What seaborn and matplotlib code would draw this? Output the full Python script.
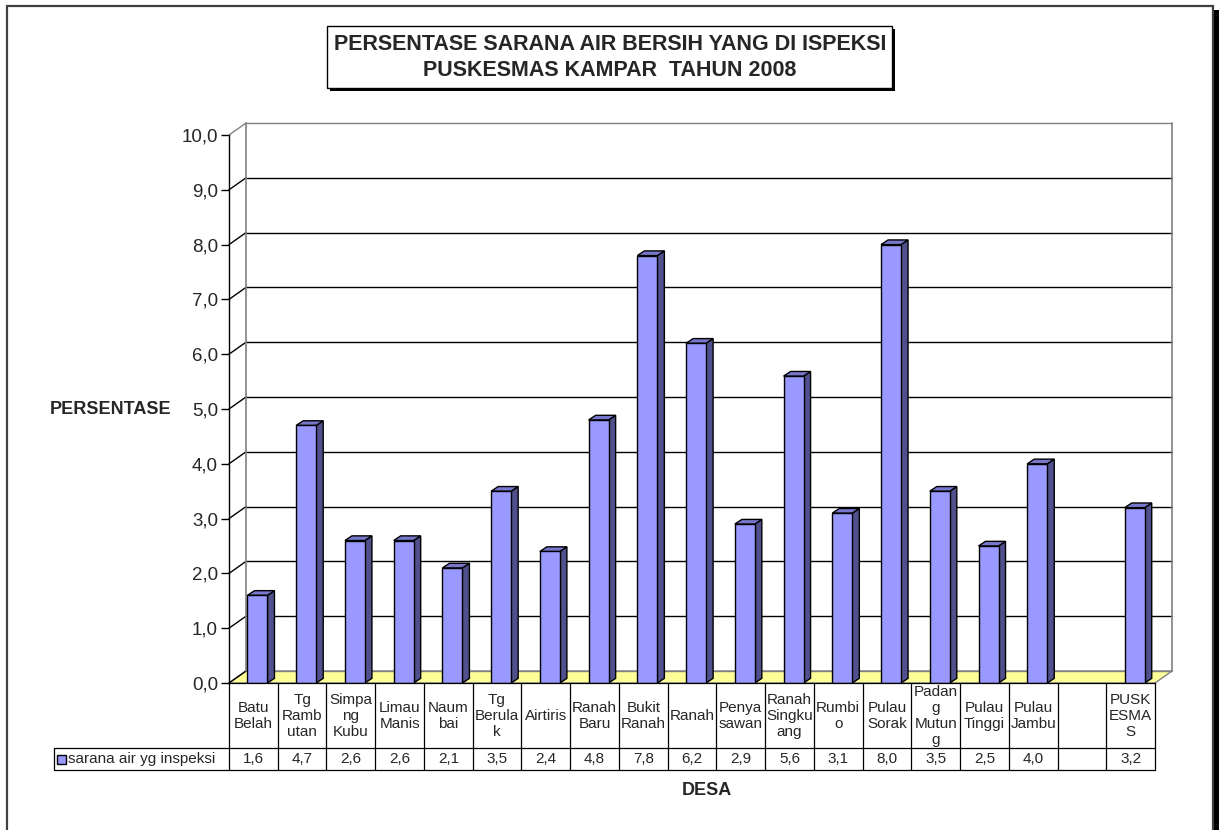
import matplotlib
matplotlib.use("Agg")
import matplotlib.pyplot as plt
import matplotlib.transforms as mtransforms
from matplotlib.patches import Rectangle, Polygon
from matplotlib.lines import Line2D
import numpy as np
import pandas as pd
import seaborn as sns

# data
desa = ["Batu Belah", "Tg Rambutan", "Simpang Kubu", "Limau Manis", "Naumbai",
        "Tg Berulak", "Airtiris", "Ranah Baru", "Bukit Ranah", "Ranah",
        "Penyasawan", "Ranah Singkuang", "Rumbio", "Pulau Sorak", "Padang Mutung",
        "Pulau Tinggi", "Pulau Jambu", "", "PUSKESMAS"]
label_tabel = ["Batu\nBelah", "Tg\nRamb\nutan", "Simpa\nng\nKubu", "Limau\nManis", "Naum\nbai",
               "Tg\nBerula\nk", "Airtiris", "Ranah\nBaru", "Bukit\nRanah", "Ranah",
               "Penya\nsawan", "Ranah\nSingku\nang", "Rumbi\no", "Pulau\nSorak", "Padan\ng\nMutun\ng",
               "Pulau\nTinggi", "Pulau\nJambu", "", "PUSK\nESMA\nS"]
nilai = [1.6, 4.7, 2.6, 2.6, 2.1, 3.5, 2.4, 4.8, 7.8, 6.2,
         2.9, 5.6, 3.1, 8.0, 3.5, 2.5, 4.0, np.nan, 3.2]
nama_seri = "sarana air yg inspeksi"
y_ticks = [0, 1, 2, 3, 4, 5, 6, 7, 8, 9, 10]

sns.set_style("white")
plt.rcParams['font.family'] = ['Liberation Sans', 'DejaVu Sans']

W, H = 1219, 830
def fx(p):
    return p / W
def fy(p):
    return 1 - p / H

fig = plt.figure(figsize=(W / 100, H / 100), dpi=100)
fig.patch.set_facecolor("white")

# outer frame
fig.add_artist(Rectangle((fx(7), fy(845)), fx(1213) - fx(7), fy(6) - fy(845),
                         transform=fig.transFigure, fill=False, edgecolor="#404040", lw=1.6))
fig.add_artist(Rectangle((fx(1214), 0), fx(1219) - fx(1214), fy(10),
                         transform=fig.transFigure, facecolor="black", edgecolor="none"))

ax = fig.add_axes([fx(229), fy(683), fx(1155) - fx(229), fy(135) - fy(683)])
ax.set_facecolor("none")

df = pd.DataFrame({"desa": desa, "nilai": nilai})
sns.barplot(data=df, x="desa", y="nilai", order=desa, color="#9999FF", saturation=1,
            edgecolor="black", linewidth=1, width=0.41, ax=ax, zorder=5)

n = len(desa)
ax.set_xlim(-0.5, n - 0.5)
ax.set_ylim(0, 10)

# wall depth in data units
wdx, wdy = 0.349, 0.219
x0, x1 = -0.5, n - 0.5

# floor
ax.add_patch(Polygon([(x0, 0), (x1, 0), (x1 + wdx, wdy), (x0 + wdx, wdy)], closed=True,
                     facecolor="#FFFF99", edgecolor="#808080", lw=1, clip_on=False, zorder=1))
# back wall + grid
for yv in y_ticks:
    col = "#808080" if yv in (0, 10) else "black"
    ax.add_line(Line2D([x0 + wdx, x1 + wdx], [yv + wdy, yv + wdy], color=col, lw=1,
                       clip_on=False, zorder=2))
    ax.add_line(Line2D([x0, x0 + wdx], [yv, yv + wdy], color=col if yv == 10 else "black",
                       lw=1, clip_on=False, zorder=2))
ax.add_line(Line2D([x0 + wdx, x0 + wdx], [wdy, 10 + wdy], color="#808080", lw=1.2, clip_on=False, zorder=2))
ax.add_line(Line2D([x1 + wdx, x1 + wdx], [wdy, 10 + wdy], color="#808080", lw=1.2, clip_on=False, zorder=2))

# 3d bars
bdx, bdy, shift = 0.144, 0.085, 0.084
for p in ax.patches:
    if not isinstance(p, Rectangle):
        continue
    h = p.get_height()
    if not np.isfinite(h) or h == 0:
        continue
    p.set_x(p.get_x() + shift)
    a = p.get_x()
    b = a + p.get_width()
    ax.add_patch(Polygon([(b, 0), (b + bdx, bdy), (b + bdx, h + bdy), (b, h)], closed=True,
                         facecolor="#50508C", edgecolor="black", lw=1, zorder=4, clip_on=False))
    ax.add_patch(Polygon([(a, h), (b, h), (b + bdx, h + bdy), (a + bdx, h + bdy)], closed=True,
                         facecolor="#7777CC", edgecolor="black", lw=1, zorder=4, clip_on=False))

for s in ["top", "right", "bottom"]:
    ax.spines[s].set_visible(False)
ax.spines["left"].set_color("black")
ax.spines["left"].set_linewidth(1)
ax.set_yticks(y_ticks)
ax.set_yticklabels([f"{v:.1f}".replace(".", ",") for v in y_ticks], fontsize=13.5)
ax.tick_params(axis="y", direction="out", length=6, width=1, color="black", pad=2, left=True)
ax.set_xticks([])
ax.set_xlabel("")
ax.set_ylabel("")

# data table
tr = mtransforms.blended_transform_factory(ax.transData, fig.transFigure)
lc = "black"
for yy in [683, 748, 770]:
    fig.add_artist(Line2D([x0, x1], [fy(yy), fy(yy)], transform=tr, color=lc, lw=0.9))
fig.add_artist(Line2D([fx(54), fx(229)], [fy(748), fy(748)], transform=fig.transFigure, color=lc, lw=0.9))
fig.add_artist(Line2D([fx(54), fx(229)], [fy(770), fy(770)], transform=fig.transFigure, color=lc, lw=0.9))
fig.add_artist(Line2D([fx(54), fx(54)], [fy(748), fy(770)], transform=fig.transFigure, color=lc, lw=0.9))
for k in range(n + 1):
    fig.add_artist(Line2D([x0 + k, x0 + k], [fy(683), fy(770)], transform=tr, color=lc, lw=0.9))

for i, (lab, v) in enumerate(zip(label_tabel, nilai)):
    t = fig.text(i, fy(716), lab, transform=tr, ha="center", va="center", fontsize=11,
                 linespacing=1.17, multialignment="center")
    clip = Rectangle((i - 0.5, fy(748)), 1, fy(683) - fy(748), transform=tr)
    t.set_clip_path(clip)
    if np.isfinite(v):
        fig.text(i, fy(759), f"{v:.1f}".replace(".", ","), transform=tr, ha="center",
                 va="center", fontsize=11)

# legend cell
fig.add_artist(Rectangle((fx(57), fy(764)), fx(66) - fx(57), fy(755) - fy(764),
                         transform=fig.transFigure, facecolor="#9999FF", edgecolor="black", lw=1))
fig.text(fx(68), fy(759), nama_seri, ha="left", va="center", fontsize=11)

# axis titles
fig.text(fx(111), fy(410), "PERSENTASE", ha="center", va="center", fontsize=13, fontweight="bold")
fig.text(fx(707), fy(790), "DESA", ha="center", va="center", fontsize=13, fontweight="bold")

# title box
fig.add_artist(Rectangle((fx(330), fy(91)), fx(895) - fx(330), fy(29) - fy(91),
                         transform=fig.transFigure, facecolor="black", edgecolor="none"))
fig.add_artist(Rectangle((fx(327), fy(88)), fx(892) - fx(327), fy(26) - fy(88),
                         transform=fig.transFigure, facecolor="white", edgecolor="black", lw=1))
fig.text(fx(610), fy(44), "PERSENTASE SARANA AIR BERSIH YANG DI ISPEKSI", ha="center",
         va="center", fontsize=15.5, fontweight="bold")
fig.text(fx(610), fy(70), "PUSKESMAS KAMPAR  TAHUN 2008", ha="center",
         va="center", fontsize=15.5, fontweight="bold")

fig.savefig("out.png", dpi=100)
